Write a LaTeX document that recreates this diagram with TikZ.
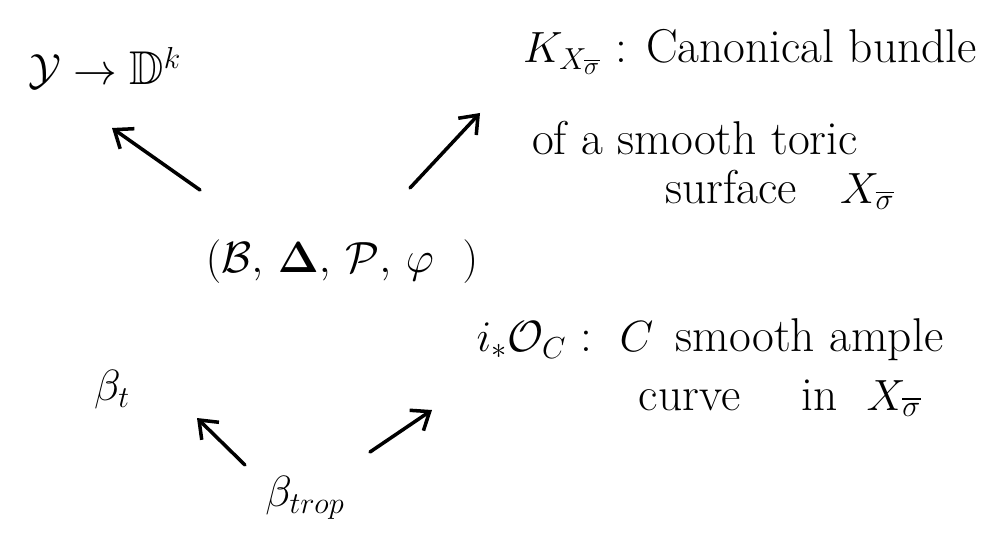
\documentclass[tikz,border=0pt]{standalone}
\usepackage{amsmath,amssymb}
\usetikzlibrary{arrows.meta}
\begin{document}
\begin{tikzpicture}[x=0.02cm,y=-0.02cm,
  lbl/.style={font=\fontsize{27}{32}\selectfont, inner sep=0pt, align=center},
  arr/.style={-{Straight Barb[length=9pt,width=14pt]}, line width=2pt, line cap=round}]
\useasboundingbox (0,0) rectangle (990,533);
\node[lbl] (Y) at (105,68) {$\mathcal{Y}\to\mathbb{D}^k$};
\node[lbl] (K1) at (750,52) {$K_{X_{\overline{\sigma}}}$ : Canonical bundle};
\node[lbl] (K2) at (695,138) {of a smooth toric};
\node[lbl] (K3) at (780,190) {surface \ \ $X_{\overline{\sigma}}$};
\node[lbl] (M) at (342,262) {$(\mathcal{B},\,\mathbf{\Delta},\,\mathcal{P},\,\varphi\ \ )$};
\node[lbl] (I1) at (710,340) {$i_*\mathcal{O}_C$ : \,$C$ \,smooth ample};
\node[lbl] (I2) at (780,398) {curve \quad in \ $X_{\overline{\sigma}}$};
\node[lbl] (Bt) at (112,390) {$\beta_t$};
\node[lbl] (Btr) at (305,498) {$\beta_{trop}$};
\coordinate (a1s) at (200,190); \coordinate (a1e) at (112,128);
\coordinate (a2s) at (410,188); \coordinate (a2e) at (480,113);
\coordinate (a3s) at (245,465); \coordinate (a3e) at (197,418);
\coordinate (a4s) at (370,452); \coordinate (a4e) at (432,410);
\draw[arr] (a1s) -- (a1e);
\draw[arr] (a2s) -- (a2e);
\draw[arr] (a3s) -- (a3e);
\draw[arr] (a4s) -- (a4e);
\end{tikzpicture}
\end{document}
